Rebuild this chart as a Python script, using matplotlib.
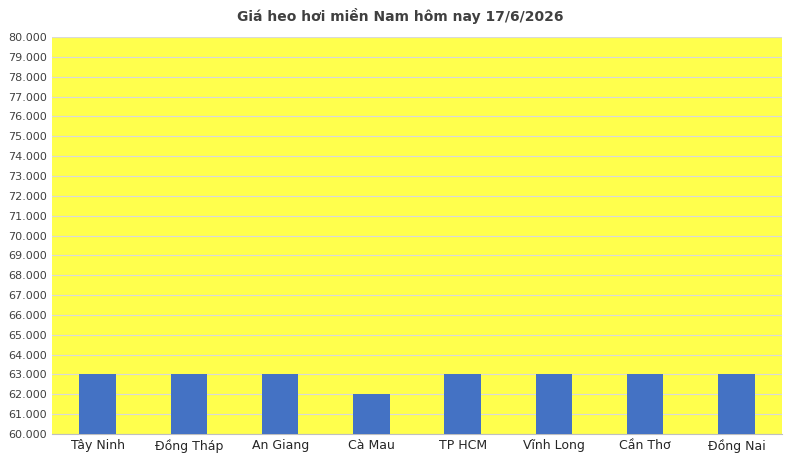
import matplotlib
matplotlib.use("Agg")
import matplotlib.pyplot as plt
from matplotlib.ticker import FuncFormatter, MultipleLocator

categories = ["Tây Ninh", "Đồng Tháp", "An Giang", "Cà Mau", "TP HCM", "Vĩnh Long", "Cần Thơ", "Đồng Nai"]
values = [63000, 63000, 63000, 62000, 63000, 63000, 63000, 63000]

plt.rcParams['font.family'] = ['DejaVu Sans']
fig = plt.figure(figsize=(8, 4.67), dpi=100)
ax = fig.add_axes([0.065, 0.0707, 0.9125, 0.850])
ax.set_facecolor("#FFFF4D")
ax.bar(categories, values, width=0.4, color="#4472C4", zorder=3)
ax.set_ylim(60000, 80000)
ax.set_xlim(-0.5, len(categories) - 0.5)
ax.yaxis.set_major_locator(MultipleLocator(1000))
ax.yaxis.set_major_formatter(FuncFormatter(lambda v, p: f"{int(v):,}".replace(",", ".")))
ax.grid(axis="y", color="#D9D9D9", linewidth=0.8, zorder=0)
for s in ["top", "right", "left"]:
    ax.spines[s].set_visible(False)
ax.spines["bottom"].set_color("#BFBFBF")
ax.tick_params(axis="y", length=0, labelsize=8, labelcolor="#404040")
ax.tick_params(axis="x", length=0, labelsize=9, labelcolor="#262626")
fig.text(0.5, 0.965, "Giá heo hơi miền Nam hôm nay 17/6/2026", ha="center", va="center",
         fontsize=10, color="#404040", fontweight="bold")
fig.savefig("out.png", dpi=100)
